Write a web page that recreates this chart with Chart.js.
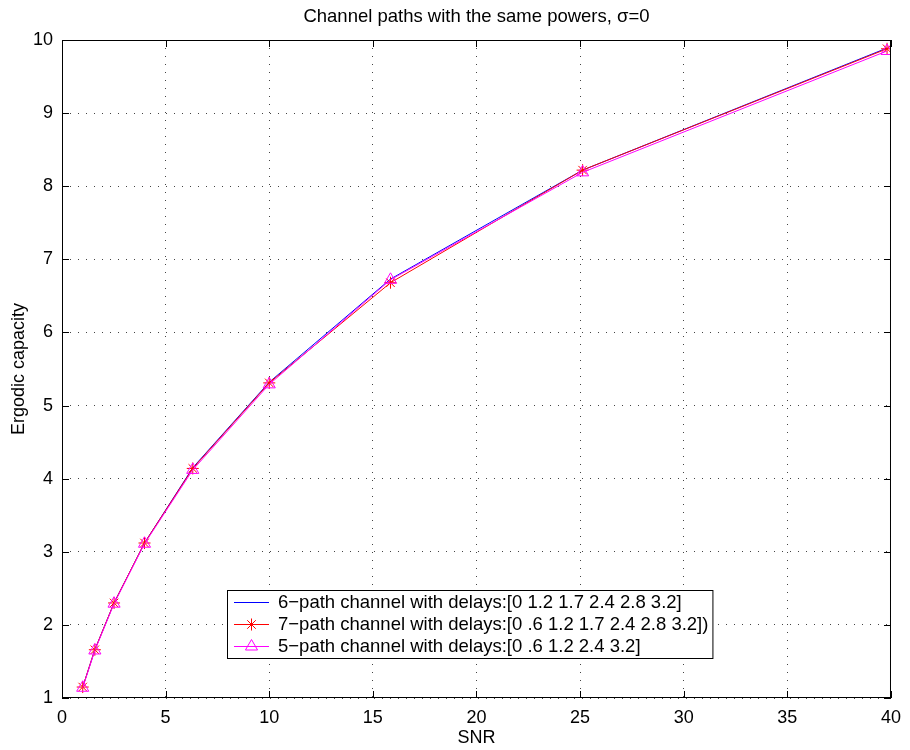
<!DOCTYPE html>
<html>
<head>
<meta charset="utf-8">
<script src="https://cdn.jsdelivr.net/npm/chart.js@4/dist/chart.umd.min.js"></script>
<style>
  html, body { margin: 0; padding: 0; background: #fff; }
  #wrap { width: 910px; height: 750px; }
</style>
</head>
<body>
<div id="wrap"><canvas id="c"></canvas></div>
<script>
// SNR points (linear scale, 0..16 dB in 2 dB steps)
const snr = [1, 1.585, 2.512, 3.981, 6.31, 10, 15.85, 25.12, 39.81];

// ergodic capacity
const cap6path = [1.15, 1.66, 2.30, 3.12, 4.15, 5.32, 6.73, 8.22, 9.89];
const cap7path = [1.15, 1.66, 2.30, 3.12, 4.14, 5.31, 6.68, 8.22, 9.88];
const cap5path = [1.14, 1.65, 2.29, 3.11, 4.12, 5.29, 6.72, 8.19, 9.85];

const seriesNames = [
    '6\u2212path channel with delays:[0 1.2 1.7 2.4 2.8 3.2]',
    '7\u2212path channel with delays:[0 .6 1.2 1.7 2.4 2.8 3.2])',
    '5\u2212path channel with delays:[0 .6 1.2 2.4 3.2]'
];

const xTicks = [0, 5, 10, 15, 20, 25, 30, 35, 40];
const yTicks = [1, 2, 3, 4, 5, 6, 7, 8, 9, 10];

const FONT = '"Liberation Sans", Arial, Helvetica, sans-serif';

function toPoints(ys) {
    return snr.map((x, i) => ({ x: x, y: ys[i] }));
}

// MATLAB style frame: box, inner ticks, titles, legend
const matlabFrame = {
    id: 'matlabFrame',
    afterDraw(chart) {
        const ctx = chart.ctx;
        const a = chart.chartArea;
        const xs = chart.scales.x, ys = chart.scales.y;
        ctx.save();

        // box
        ctx.strokeStyle = '#000';
        ctx.lineWidth = 1;
        ctx.strokeRect(a.left + 0.5, a.top + 0.5, a.right - a.left - 1, a.bottom - a.top - 1);

        // inner ticks
        const tl = 7;
        ctx.beginPath();
        xTicks.forEach(v => {
            const px = Math.round(xs.getPixelForValue(v)) + 0.5;
            ctx.moveTo(px, a.bottom); ctx.lineTo(px, a.bottom - tl);
            ctx.moveTo(px, a.top); ctx.lineTo(px, a.top + tl);
        });
        yTicks.forEach(v => {
            const py = Math.round(ys.getPixelForValue(v)) + 0.5;
            ctx.moveTo(a.left, py); ctx.lineTo(a.left + tl, py);
            ctx.moveTo(a.right, py); ctx.lineTo(a.right - tl, py);
        });
        ctx.stroke();

        // titles
        ctx.fillStyle = '#000';
        ctx.font = '18.5px ' + FONT;
        ctx.textAlign = 'center';
        ctx.textBaseline = 'middle';
        const cx = (a.left + a.right) / 2;
        ctx.fillText('Channel paths with the same powers, \u03c3=0', cx, 17);
        ctx.font = '18px ' + FONT;
        ctx.fillText('SNR', cx, 738);
        ctx.save();
        ctx.translate(19, (a.top + a.bottom) / 2);
        ctx.rotate(-Math.PI / 2);
        ctx.fillText('Ergodic capacity', 0, 0);
        ctx.restore();

        // legend
        ctx.font = '18.5px ' + FONT;
        const lx = 227, ly = 590, rowH = 22;
        let maxW = 0;
        seriesNames.forEach(s => { maxW = Math.max(maxW, ctx.measureText(s).width); });
        const boxW = 51 + maxW + 4, boxH = 68;
        ctx.fillStyle = '#fff';
        ctx.fillRect(lx, ly, boxW, boxH);
        ctx.strokeStyle = '#000';
        ctx.strokeRect(lx + 0.5, ly + 0.5, boxW, boxH);
        chart.data.datasets.forEach((ds, i) => {
            const y = ly + 12 + i * rowH;
            ctx.strokeStyle = ds.borderColor;
            ctx.lineWidth = 1;
            ctx.beginPath();
            ctx.moveTo(lx + 7, y + 0.5);
            ctx.lineTo(lx + 42, y + 0.5);
            ctx.stroke();
            if (ds.pointRadius > 0) {
                ctx.fillStyle = 'rgba(0,0,0,0)';
                Chart.helpers.drawPoint(ctx, {
                    pointStyle: ds.pointStyle,
                    radius: ds.pointRadius,
                    borderWidth: 1,
                    rotation: 0
                }, lx + 24.5, y + 0.5);
            }
            ctx.fillStyle = '#000';
            ctx.textAlign = 'left';
            ctx.textBaseline = 'middle';
            ctx.fillText(seriesNames[i], lx + 51, y + 1);
        });
        ctx.restore();
    }
};

new Chart(document.getElementById('c'), {
    type: 'line',
    data: {
        datasets: [{
            label: seriesNames[0],
            data: toPoints(cap6path),
            borderColor: '#0000ff',
            borderWidth: 1,
            pointRadius: 0,
            order: 3
        }, {
            label: seriesNames[1],
            data: toPoints(cap7path),
            borderColor: '#ff0000',
            borderWidth: 1,
            pointStyle: 'star',
            pointRadius: 6,
            pointBorderColor: '#ff0000',
            pointBorderWidth: 1,
            order: 2
        }, {
            label: seriesNames[2],
            data: toPoints(cap5path),
            borderColor: '#ff00ff',
            borderWidth: 1,
            pointStyle: 'triangle',
            pointRadius: 7,
            pointBorderColor: '#ff00ff',
            pointBackgroundColor: 'rgba(0,0,0,0)',
            pointBorderWidth: 1,
            order: 1
        }]
    },
    options: {
        responsive: true,
        maintainAspectRatio: false,
        animation: false,
        layout: { padding: { left: 0, top: 40, right: 16, bottom: 0 } },
        plugins: {
            legend: { display: false },
            title: { display: false },
            tooltip: { enabled: false }
        },
        scales: {
            x: {
                type: 'linear',
                min: 0, max: 40,
                afterFit(scale) { scale.height = 52; },
                afterBuildTicks(scale) { scale.ticks = xTicks.map(v => ({ value: v })); },
                ticks: { color: '#000', font: { family: FONT, size: 18 }, padding: 9, maxRotation: 0 },
                grid: { color: '#444', lineWidth: 1, drawTicks: false },
                border: { display: false, dash: [1, 7] }
            },
            y: {
                type: 'linear',
                min: 1, max: 10,
                afterFit(scale) { scale.width = 62; },
                afterBuildTicks(scale) { scale.ticks = yTicks.map(v => ({ value: v })); },
                ticks: { color: '#000', font: { family: FONT, size: 18 }, padding: 9 },
                grid: { color: '#444', lineWidth: 1, drawTicks: false },
                border: { display: false, dash: [1, 7] }
            }
        }
    },
    plugins: [matlabFrame]
});
</script>
</body>
</html>
